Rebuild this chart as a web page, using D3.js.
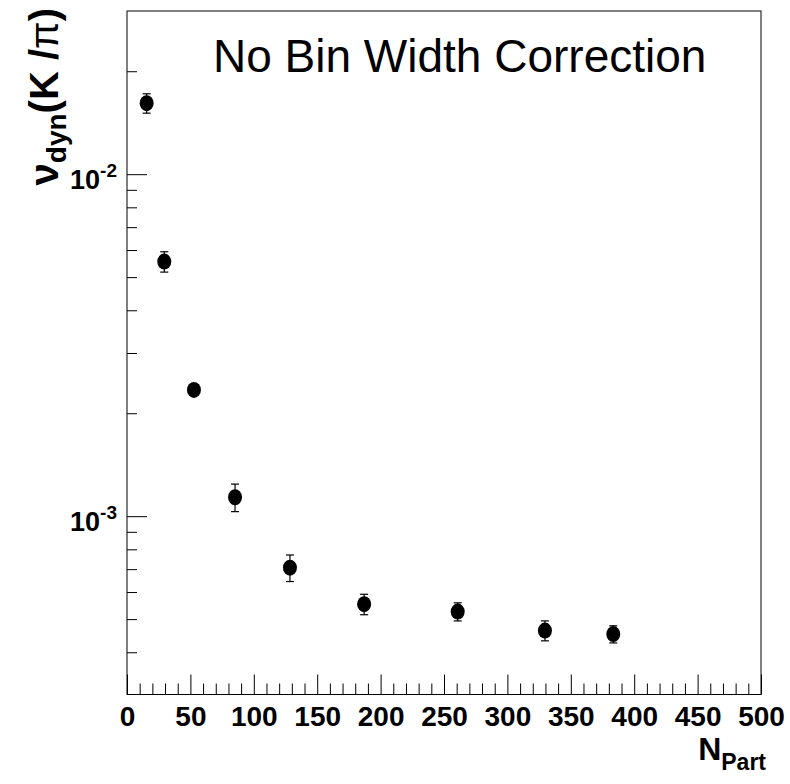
<!DOCTYPE html>
<html>
<head>
<meta charset="utf-8">
<script src="https://cdn.jsdelivr.net/npm/d3@7"></script>
<style>
  body { margin: 0; background: #fff; }
  svg { display: block; font-family: "Liberation Sans", Arial, sans-serif; }
</style>
</head>
<body>
<div id="chart"></div>
<script>
"use strict";
// N_part vs nu_dyn(K/pi)
var npart = [15.5, 29.4, 52.8, 85.2, 128.5, 187, 260.8, 329.6, 383.5];
var vdyn = [0.01613, 0.005552, 0.00234, 0.001136, 0.000707, 0.000553, 0.000526, 0.000463, 0.000452];
var vdynErr = [0.00105, 0.00038, 0.00008, 0.000105, 0.000063, 0.000038, 0.000032, 0.000031, 0.000026];

var xMajor = [0, 50, 100, 150, 200, 250, 300, 350, 400, 450, 500];
var yMajor = [0.001, 0.01];
var yMajorExp = ["-3", "-2"];

var w = 790, h = 784;
var padL = 127, padR = 761, padT = 11, padB = 694.5;

var svg = d3.select("#chart").append("svg")
  .attr("width", w)
  .attr("height", h);

var x = d3.scaleLinear().domain([0, 500]).range([padL, padR]);
var y = d3.scaleLog().domain([3.01e-4, 0.0300]).range([padB, padT]);

// minor ticks every 10 on x, 2..9 per decade on y
var xMinor = d3.range(0, 501, 10).filter(function(d) { return d % 50 != 0; });
var yMinor = [];
[1e-4, 1e-3, 1e-2].forEach(function(dec) {
  for (let k = 2; k <= 9; k++) {
    var v = k * dec;
    if (v > y.domain()[0] && v < y.domain()[1]) yMinor.push(v);
  }
});

// frame
svg.append("rect")
  .attr("x", padL).attr("y", padT)
  .attr("width", padR - padL).attr("height", padB - padT)
  .attr("fill", "none").attr("stroke", "#000").attr("stroke-width", 1);

// x axis
var gx = svg.append("g").attr("transform", "translate(0," + padB + ")");
gx.call(d3.axisBottom(x).tickValues(xMajor).tickSizeInner(-20).tickSizeOuter(0).tickPadding(12)
  .tickFormat(d3.format("d")));
gx.append("g").call(d3.axisBottom(x).tickValues(xMinor).tickSizeInner(-11).tickSizeOuter(0).tickFormat(""));
gx.selectAll(".domain").remove();
gx.selectAll("text")
  .attr("fill", "#000")
  .style("font-size", "28px")
  .style("font-weight", "bold")
  .style("font-family", "'Liberation Sans', Arial, sans-serif");

// y axis
var gy = svg.append("g").attr("transform", "translate(" + padL + ",0)");
gy.call(d3.axisLeft(y).tickValues(yMajor).tickSizeInner(-20).tickSizeOuter(0).tickFormat(""));
gy.append("g").call(d3.axisLeft(y).tickValues(yMinor).tickSizeInner(-10).tickSizeOuter(0).tickFormat(""));
gy.selectAll(".domain").remove();

var yl = svg.append("g").selectAll("text")
  .data(yMajor)
  .enter().append("text")
  .attr("x", 117)
  .attr("y", function(d) { return y(d) + 15; })
  .attr("text-anchor", "end")
  .style("font-weight", "bold");
yl.append("tspan").style("font-size", "27px").text("10");
yl.append("tspan").style("font-size", "19px").attr("dy", -12)
  .text(function(d, i) { return yMajorExp[i]; });

// error bars
var pts = npart.map(function(n, i) { return { n: n, v: vdyn[i], e: vdynErr[i] }; });
var eb = svg.append("g").selectAll("g")
  .data(pts)
  .enter().append("g")
  .attr("stroke", "#000").attr("stroke-width", 1.2);
eb.append("line")
  .attr("x1", function(d) { return x(d.n); })
  .attr("x2", function(d) { return x(d.n); })
  .attr("y1", function(d) { return y(d.v - d.e); })
  .attr("y2", function(d) { return y(d.v + d.e); });
[-1, 1].forEach(function(s) {
  eb.append("line")
    .attr("x1", function(d) { return x(d.n) - 4; })
    .attr("x2", function(d) { return x(d.n) + 4; })
    .attr("y1", function(d) { return y(d.v + s * d.e); })
    .attr("y2", function(d) { return y(d.v + s * d.e); });
});

// markers
svg.append("g").selectAll("ellipse")
  .data(pts)
  .enter().append("ellipse")
  .attr("cx", function(d) { return x(d.n); })
  .attr("cy", function(d) { return y(d.v); })
  .attr("rx", 7).attr("ry", 8)
  .attr("fill", "#000");

// label in plot
svg.append("text")
  .attr("x", 213).attr("y", 72)
  .style("font-size", "46px")
  .text("No Bin Width Correction");

// x title
var xt = svg.append("text")
  .attr("x", 766).attr("y", 760)
  .attr("text-anchor", "end")
  .style("font-weight", "bold");
xt.append("tspan").style("font-size", "32px").text("N");
xt.append("tspan").style("font-size", "23px").attr("dy", 10).text("Part");

// y title
var yt = svg.append("text")
  .attr("transform", "translate(58,8) rotate(-90)")
  .attr("text-anchor", "end")
  .style("font-weight", "bold");
yt.append("tspan").style("font-size", "40px").text("\u03bd");
yt.append("tspan").style("font-size", "28px").attr("dy", 8).text("dyn");
yt.append("tspan").style("font-size", "40px").attr("dy", -8).text("(K /");
yt.append("tspan").style("font-size", "40px").style("font-weight", "normal").text("\u03c0");
yt.append("tspan").style("font-size", "40px").text(")");
</script>
</body>
</html>
